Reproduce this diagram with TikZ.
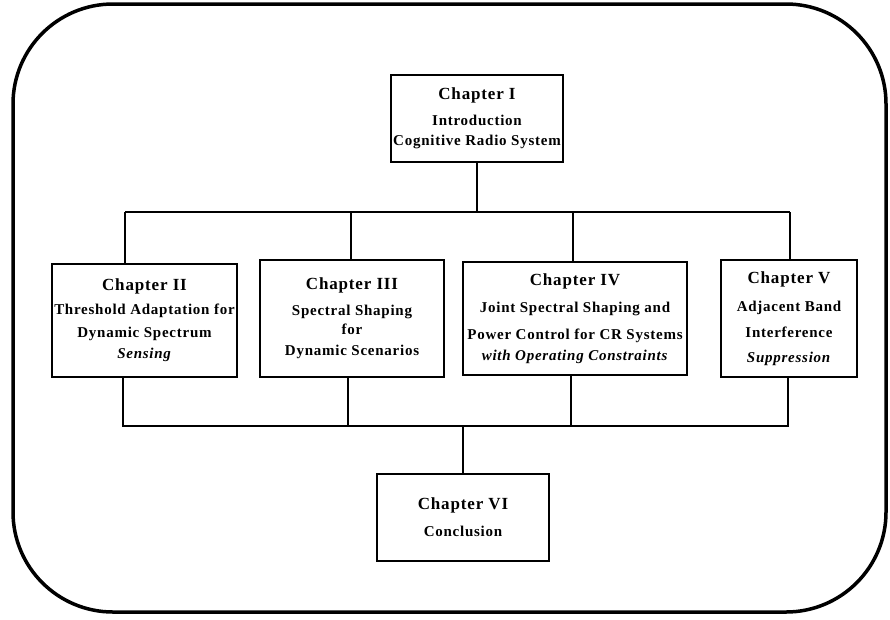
\documentclass[tikz,border=0pt]{standalone}
\usepackage{fontspec}
\setmainfont{Liberation Serif}
\newfontfamily\bxfont{Liberation Serif}[LetterSpace=5]
\newcommand\chaptitle[1]{{\fontsize{17}{20}\selectfont #1}}
\begin{document}
\begin{tikzpicture}[x=1pt,y=-1pt,
  chap/.style={draw, line width=1.1pt, inner sep=0pt, align=center,
    font=\bxfont\bfseries\fontsize{15}{23}\selectfont},
  conn/.style={line width=1.1pt}]
\useasboundingbox (0,0) rectangle (890,619);
\draw[line width=3.5pt, rounded corners=100pt] (13,4) rectangle (886,612);

\node[chap, minimum width=172pt, minimum height=87pt] (ch1) at (477,118.5)
  {\chaptitle{Chapter I}\\[3pt] Introduction\\[-3pt] Cognitive Radio System};
\node[chap, minimum width=185pt, minimum height=113pt] (ch2) at (144.5,320.5)
  {\chaptitle{Chapter II}\\[1pt] Threshold Adaptation for\\ Dynamic Spectrum\\[-2pt] \textit{Sensing}};
\node[chap, minimum width=184pt, minimum height=117pt] (ch3) at (352,318.5)
  {\chaptitle{Chapter III}\\[3pt] Spectral Shaping\\[-4pt] for\\[-2pt] Dynamic Scenarios};
\node[chap, minimum width=224pt, minimum height=113pt] (ch4) at (575,318.5)
  {\chaptitle{Chapter IV}\\[4pt] Joint Spectral Shaping and\\[4pt] Power Control for CR Systems\\[-2pt] \textit{with Operating Constraints}};
\node[chap, minimum width=136pt, minimum height=117pt] (ch5) at (789,318.5)
  {\chaptitle{Chapter V}\\[5pt] Adjacent Band\\[3pt] Interference\\[2pt] \textit{Suppression}};
\node[chap, minimum width=172pt, minimum height=87pt] (ch6) at (463,517.5)
  {\chaptitle{Chapter VI}\\[4pt] Conclusion};

% top distribution
\coordinate (h1) at (477,212);
\coordinate (h1l) at (125,212);
\coordinate (h1r) at (790,212);
\coordinate (d3) at (351,212);
\coordinate (d4) at (573,212);
\draw[conn] (ch1.south) -- (h1);
\draw[conn] (h1l) -- (h1r);
\draw[conn] (h1l) -- (h1l |- ch2.north);
\draw[conn] (d3) -- (d3 |- ch3.north);
\draw[conn] (d4) -- (d4 |- ch4.north);
\draw[conn] (h1r) -- (h1r |- ch5.north);

% bottom collection
\coordinate (b2) at (123,426);
\coordinate (b5) at (788,426);
\coordinate (u3) at (348,426);
\coordinate (u4) at (571,426);
\coordinate (h2) at (463,426);
\draw[conn] (b2 |- ch2.south) -- (b2) -- (b5) -- (b5 |- ch5.south);
\draw[conn] (u3 |- ch3.south) -- (u3);
\draw[conn] (u4 |- ch4.south) -- (u4);
\draw[conn] (h2) -- (ch6.north);
\end{tikzpicture}
\end{document}
